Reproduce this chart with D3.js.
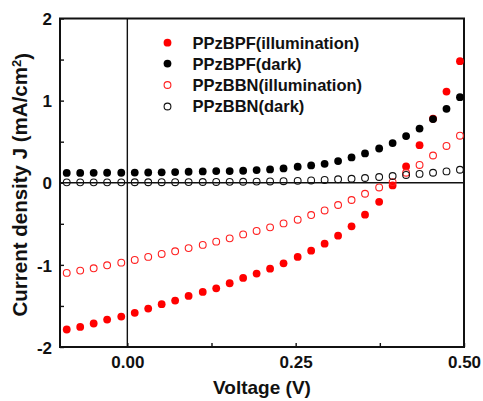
<!DOCTYPE html>
<html><head><meta charset="utf-8">
<script src="https://cdn.jsdelivr.net/npm/d3@7"></script>
<style>
html,body{margin:0;padding:0;background:#fff;}
svg{display:block;font-family:"Liberation Sans",Arial,sans-serif;font-weight:bold;}
</style></head>
<body>
<svg id="chart" width="483" height="401"></svg>
<script>
// ---- data ----
const voltage = [-0.09,-0.070,-0.050,-0.030,-0.009,0.011,0.031,0.051,0.071,0.091,
  0.112,0.132,0.152,0.172,0.192,0.212,0.232,0.253,0.273,0.293,
  0.313,0.333,0.353,0.374,0.394,0.414,0.434,0.454,0.474,0.494];
const bpfIllum = [-1.787,-1.755,-1.714,-1.666,-1.629,-1.584,-1.532,-1.479,-1.435,-1.378,
  -1.329,-1.285,-1.224,-1.159,-1.106,-1.046,-0.981,-0.903,-0.827,-0.742,
  -0.644,-0.531,-0.389,-0.232,-0.033,0.198,0.458,0.78,1.110,1.480];
const bpfDark = [0.120,0.120,0.121,0.122,0.122,0.124,0.125,0.127,0.130,0.134,
  0.138,0.142,0.142,0.146,0.154,0.162,0.174,0.195,0.211,0.231,
  0.264,0.308,0.357,0.417,0.483,0.568,0.660,0.775,0.900,1.042];
const bbnIllum = [-1.098,-1.070,-1.042,-1.005,-0.973,-0.940,-0.903,-0.867,-0.835,-0.796,
  -0.757,-0.717,-0.677,-0.629,-0.587,-0.543,-0.495,-0.450,-0.393,-0.337,
  -0.271,-0.210,-0.134,-0.057,0.008,0.122,0.217,0.332,0.448,0.573];
const bbnDark = [0.005,0.005,0.005,0.005,0.005,0.006,0.006,0.007,0.007,0.008,
  0.009,0.010,0.011,0.012,0.014,0.016,0.019,0.023,0.028,0.034,
  0.042,0.049,0.058,0.070,0.082,0.095,0.108,0.122,0.138,0.158];
const seriesNames = ["PPzBPF(illumination)","PPzBPF(dark)","PPzBBN(illumination)","PPzBBN(dark)"];
const xTickValues = [0, 0.25, 0.5];
const xTickLabels = ["0.00","0.25","0.50"];
const xMinorTicks = [0.125, 0.375];
const yTickValues = [-2,-1,0,1,2];
const yTickLabels = ["-2","-1","0","1","2"];
const yMinorTicks = [-1.5,-0.5,0.5,1.5];

// ---- layout ----
const svg = d3.select("#chart");
const L=60, R=464, T=18.5, B=347;
const x = d3.scaleLinear().domain([-0.1,0.5]).range([L,R]);
const y = d3.scaleLinear().domain([-2,2]).range([B,T]);
const ink = "#111";

// zero lines
svg.append("line").attr("x1",x(0)).attr("x2",x(0)).attr("y1",T).attr("y2",B)
  .attr("stroke",ink).attr("stroke-width",1.4);
svg.append("line").attr("x1",L).attr("x2",R).attr("y1",y(0)).attr("y2",y(0))
  .attr("stroke",ink).attr("stroke-width",1.4);

// axes
const xAxis = svg.append("g").attr("transform",`translate(0,${B})`)
  .call(d3.axisBottom(x).tickValues(xTickValues).tickSize(-4).tickPadding(9)
    .tickFormat((d,i)=>xTickLabels[i]));
const xMinor = svg.append("g").attr("transform",`translate(0,${B})`)
  .call(d3.axisBottom(x).tickValues(xMinorTicks).tickSize(-4).tickFormat(""));
const yAxis = svg.append("g").attr("transform",`translate(${L},0)`)
  .call(d3.axisLeft(y).tickValues(yTickValues).tickSize(-4).tickPadding(8)
    .tickFormat((d,i)=>yTickLabels[i]));
const yMinor = svg.append("g").attr("transform",`translate(${L},0)`)
  .call(d3.axisLeft(y).tickValues(yMinorTicks).tickSize(-4).tickFormat(""));
[xAxis,xMinor,yAxis,yMinor].forEach(g=>{
  g.select(".domain").remove();
  g.selectAll(".tick line").attr("stroke",ink).attr("stroke-width",1.4);
  g.selectAll("text").attr("fill",ink).style("font-size","17px").style("font-weight","bold")
   .style("font-family","'Liberation Sans',Arial,sans-serif");
});
yAxis.selectAll("text").attr("dy","0.36em");

// frame
svg.append("rect").attr("x",L).attr("y",T).attr("width",R-L).attr("height",B-T)
  .attr("fill","none").attr("stroke",ink).attr("stroke-width",2);

// data
const data = voltage.map((v,i)=>({v, a:bpfIllum[i], b:bpfDark[i], c:bbnIllum[i], d:bbnDark[i]}));
function dots(key, fill, stroke, r){
  svg.append("g").selectAll("circle").data(data).join("circle")
    .attr("cx",d=>x(d.v)).attr("cy",d=>y(d[key])).attr("r",r)
    .attr("fill",fill).attr("stroke",stroke).attr("stroke-width",1.1);
}
dots("a","#ff0000","none",3.9);
dots("b","#000","none",3.9);
dots("c","none","#ff2020",3.4);
dots("d","none","#111",3.4);

// legend
const legY = [42.7, 63.6, 85, 106.5];
const legStyle = [["#ff0000","none"],["#000","none"],["none","#ff2020"],["none","#111"]];
seriesNames.forEach((name,i)=>{
  const [f,s] = legStyle[i];
  svg.append("circle").attr("cx",167.5).attr("cy",legY[i]).attr("r",f==="none"?3.4:3.9)
    .attr("fill",f).attr("stroke",s).attr("stroke-width",1.1);
  svg.append("text").attr("x",192.5).attr("y",legY[i]).attr("dy","0.36em")
    .attr("fill",ink).style("font-size","16.5px").text(name);
});

// axis titles
svg.append("text").attr("x",(L+R)/2).attr("y",394).attr("text-anchor","middle")
  .attr("fill",ink).style("font-size","19px").text("Voltage (V)");
const yt = svg.append("text").attr("transform",`translate(27,${(T+B)/2+2}) rotate(-90)`)
  .attr("text-anchor","middle").attr("fill",ink).style("font-size","20.5px");
yt.append("tspan").text("Current density J (mA/cm");
yt.append("tspan").attr("dy","-0.45em").style("font-size","13px").text("2");
yt.append("tspan").attr("dy","0.45em").text(")");
</script>
</body></html>
